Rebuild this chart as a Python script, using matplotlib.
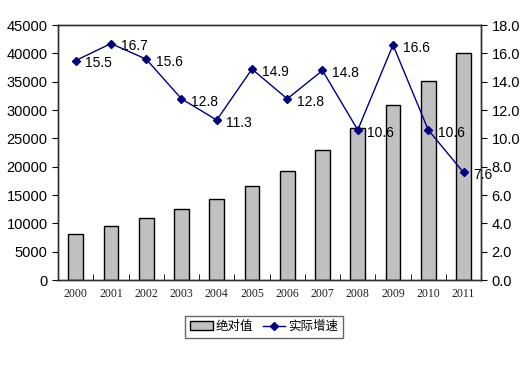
import numpy as np
import matplotlib.pyplot as plt
from matplotlib.ticker import FormatStrFormatter, FixedLocator

plt.rcParams['font.family'] = ['Liberation Sans', 'Noto Sans CJK SC', 'DejaVu Sans']

years = ['2000', '2001', '2002', '2003', '2004', '2005',
         '2006', '2007', '2008', '2009', '2010', '2011']
absolute = [8100, 9500, 10900, 12500, 14350, 16600,
            19200, 23000, 26900, 30900, 35200, 40000]
growth = [15.5, 16.7, 15.6, 12.8, 11.3, 14.9,
          12.8, 14.8, 10.6, 16.6, 10.6, 7.6]

fig = plt.figure(figsize=(5.23, 3.7), dpi=100)
ax = fig.add_axes([0.111, 0.243, 0.809, 0.689])
ax2 = ax.twinx()

x = np.arange(len(years))
bars = ax.bar(x, absolute, width=0.42, color='#c0c0c0', edgecolor='black',
              linewidth=1.0, label='绝对值', zorder=2)
line, = ax2.plot(x, growth, color='#000080', marker='D', markersize=4.5,
                 linewidth=1.0, label='实际增速', zorder=3)

for xi, g in zip(x, growth):
    ax2.annotate(f'{g:.1f}', (xi, g), xytext=(7, -2), textcoords='offset points',
                 ha='left', va='center', fontsize=10)

ax.set_xlim(-0.5, len(years) - 0.5)
ax.set_ylim(0, 45000)
ax.set_yticks(np.arange(0, 45001, 5000))
ax2.set_ylim(0, 18)
ax2.set_yticks(np.arange(0, 18.1, 2))
ax2.yaxis.set_major_formatter(FormatStrFormatter('%.1f'))

ax.set_xticks(x)
ax.set_xticklabels(years, fontsize=8.5, family='Liberation Serif', color='#202020')
ax.tick_params(axis='x', length=0, pad=6)
ax.xaxis.set_minor_locator(FixedLocator(np.arange(-0.5, len(years), 1)))
ax.tick_params(axis='x', which='minor', length=4, direction='in')
ax.tick_params(axis='y', labelsize=10.5, length=4, direction='out')
ax2.tick_params(axis='y', labelsize=10.5, length=4, direction='out')

for sp in list(ax.spines.values()) + list(ax2.spines.values()):
    sp.set_color('#303030')
    sp.set_linewidth(1.0)

ax2.set_zorder(ax.zorder + 1)
ax2.patch.set_visible(False)

fig.legend(handles=[bars, line], labels=['绝对值', '实际增速'],
           loc='center', bbox_to_anchor=(264 / 523, 1 - 327 / 370),
           ncol=2, frameon=True, fancybox=False, edgecolor='#404040',
           fontsize=9, handlelength=1.8, handletextpad=0.2, columnspacing=0.8,
           borderpad=0.4)

fig.savefig('out.png', dpi=100)
